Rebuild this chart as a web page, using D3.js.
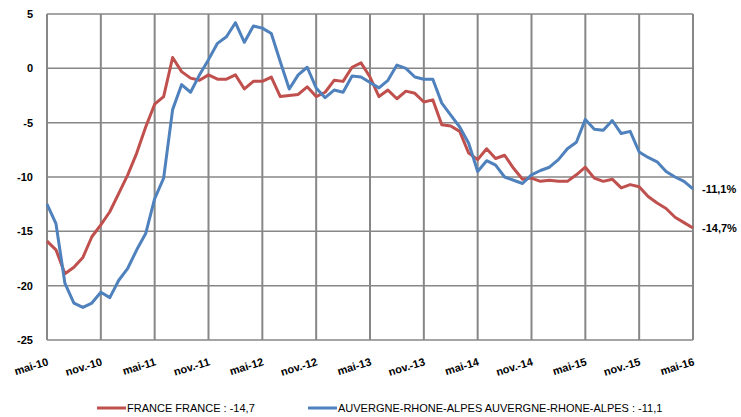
<!DOCTYPE html>
<html>
<head>
<meta charset="utf-8">
<script src="https://cdn.jsdelivr.net/npm/d3@7"></script>
<style>
  body { margin: 0; background: #fff; }
  .tick-lbl { font-family: "Liberation Sans", Arial, sans-serif; font-weight: bold; font-size: 11px; fill: #000; }
  .legend-lbl { font-family: "Liberation Sans", Arial, sans-serif; font-size: 11px; fill: #000; }
</style>
</head>
<body>
<div id="chart"></div>
<script>

// monthly values, mai-10 .. mai-16
const france = [
	-15.9, -16.7, -18.9, -18.3, -17.4, -15.5, -14.4, -13.2, -11.5, -9.8,
	-7.8, -5.4, -3.3, -2.6, 1.0, -0.3, -0.9, -1.1, -0.6, -1.0,
	-1.0, -0.6, -1.9, -1.2, -1.2, -0.8, -2.6, -2.5, -2.4, -1.7,
	-2.6, -2.2, -1.1, -1.2, 0.1, 0.5, -0.8, -2.6, -2.0, -2.8,
	-2.1, -2.3, -3.1, -2.9, -5.2, -5.3, -5.8, -7.8, -8.4, -7.4,
	-8.3, -8.0, -9.2, -10.2, -10.1, -10.4, -10.3, -10.4, -10.4, -9.8,
	-9.1, -10.1, -10.4, -10.2, -11.0, -10.7, -10.9, -11.8, -12.4, -12.9,
	-13.7, -14.2, -14.7
];

const aura = [
	-12.5, -14.3, -19.8, -21.6, -22.0, -21.6, -20.6, -21.1, -19.5, -18.4,
	-16.7, -15.2, -12.0, -10.1, -3.8, -1.5, -2.2, -0.6, 0.8, 2.3,
	2.9, 4.2, 2.4, 3.9, 3.7, 3.2, 0.6, -1.9, -0.6, 0.1,
	-1.8, -2.7, -2.0, -2.2, -0.7, -0.8, -1.3, -1.8, -1.1, 0.3,
	0.0, -0.8, -1.0, -1.0, -3.2, -4.3, -5.4, -6.9, -9.5, -8.5,
	-8.9, -10.0, -10.3, -10.6, -9.8, -9.4, -9.1, -8.4, -7.4, -6.8,
	-4.7, -5.6, -5.7, -4.8, -6.0, -5.8, -7.7, -8.2, -8.6, -9.5,
	-10.0, -10.4, -11.1
];

const tickLabels = ["mai-10", "nov.-10", "mai-11", "nov.-11", "mai-12", "nov.-12",
	"mai-13", "nov.-13", "mai-14", "nov.-14", "mai-15", "nov.-15", "mai-16"];

const yTicks = [5, 0, -5, -10, -15, -20, -25];

const series = [
	{ name: "FRANCE FRANCE : -14,7", values: france, color: "#c0504d", end: "-14,7%" },
	{ name: "AUVERGNE-RHONE-ALPES AUVERGNE-RHONE-ALPES : -11,1", values: aura, color: "#4f81bd", end: "-11,1%" }
];

const W = 741, H = 417;
const margin = { top: 14, right: 48, bottom: 77, left: 47 };
const width = W - margin.left - margin.right;
const height = H - margin.top - margin.bottom;

const svg = d3.select("#chart").append("svg")
	.attr("width", W)
	.attr("height", H);

const g = svg.append("g")
	.attr("transform", "translate(" + margin.left + "," + margin.top + ")");

const x = d3.scaleLinear().domain([0, france.length - 1]).range([0, width]);
const y = d3.scaleLinear().domain([-25, 5]).range([height, 0]);

const tickIdx = tickLabels.map((d, i) => i * 6);

// grid
g.append("g").selectAll("line.hg")
	.data(yTicks)
	.enter().append("line")
	.attr("x1", 0).attr("x2", width)
	.attr("y1", d => y(d)).attr("y2", d => y(d))
	.attr("stroke", "#878787")
	.attr("stroke-width", 1.5);

g.append("g").selectAll("line.vg")
	.data(tickIdx)
	.enter().append("line")
	.attr("x1", d => x(d)).attr("x2", d => x(d))
	.attr("y1", 0).attr("y2", height)
	.attr("stroke", "#878787")
	.attr("stroke-width", 2);

// y labels
g.append("g").selectAll("text")
	.data(yTicks)
	.enter().append("text")
	.attr("class", "tick-lbl")
	.attr("x", -14)
	.attr("y", d => y(d))
	.attr("dy", "0.35em")
	.attr("text-anchor", "end")
	.text(d => d);

// x labels, rotated
g.append("g").selectAll("text")
	.data(tickIdx)
	.enter().append("text")
	.attr("class", "tick-lbl")
	.attr("text-anchor", "end")
	.attr("transform", d => "translate(" + (x(d) + 2) + "," + (height + 25) + ") rotate(-17)")
	.text((d, i) => tickLabels[i]);

// lines
const line = d3.line()
	.x((d, i) => x(i))
	.y(d => y(d));

g.selectAll(".series")
	.data(series)
	.enter().append("path")
	.attr("class", "series")
	.attr("fill", "none")
	.attr("stroke", d => d.color)
	.attr("stroke-width", 3)
	.attr("stroke-linejoin", "round")
	.attr("d", d => line(d.values));

// end labels
g.selectAll(".end-lbl")
	.data(series)
	.enter().append("text")
	.attr("class", "tick-lbl")
	.attr("x", width + 9)
	.attr("y", d => y(d.values[d.values.length - 1]))
	.attr("dy", "0.35em")
	.text(d => d.end);

// legend
const legendX = [97, 308];
const legend = svg.append("g").selectAll("g")
	.data(series)
	.enter().append("g")
	.attr("transform", (d, i) => "translate(" + legendX[i] + ",408)");

legend.append("line")
	.attr("x1", 0).attr("x2", 29)
	.attr("stroke", d => d.color)
	.attr("stroke-width", 3);

legend.append("text")
	.attr("class", "legend-lbl")
	.attr("x", 30)
	.attr("dy", "0.35em")
	.text(d => d.name);

</script>
</body>
</html>
